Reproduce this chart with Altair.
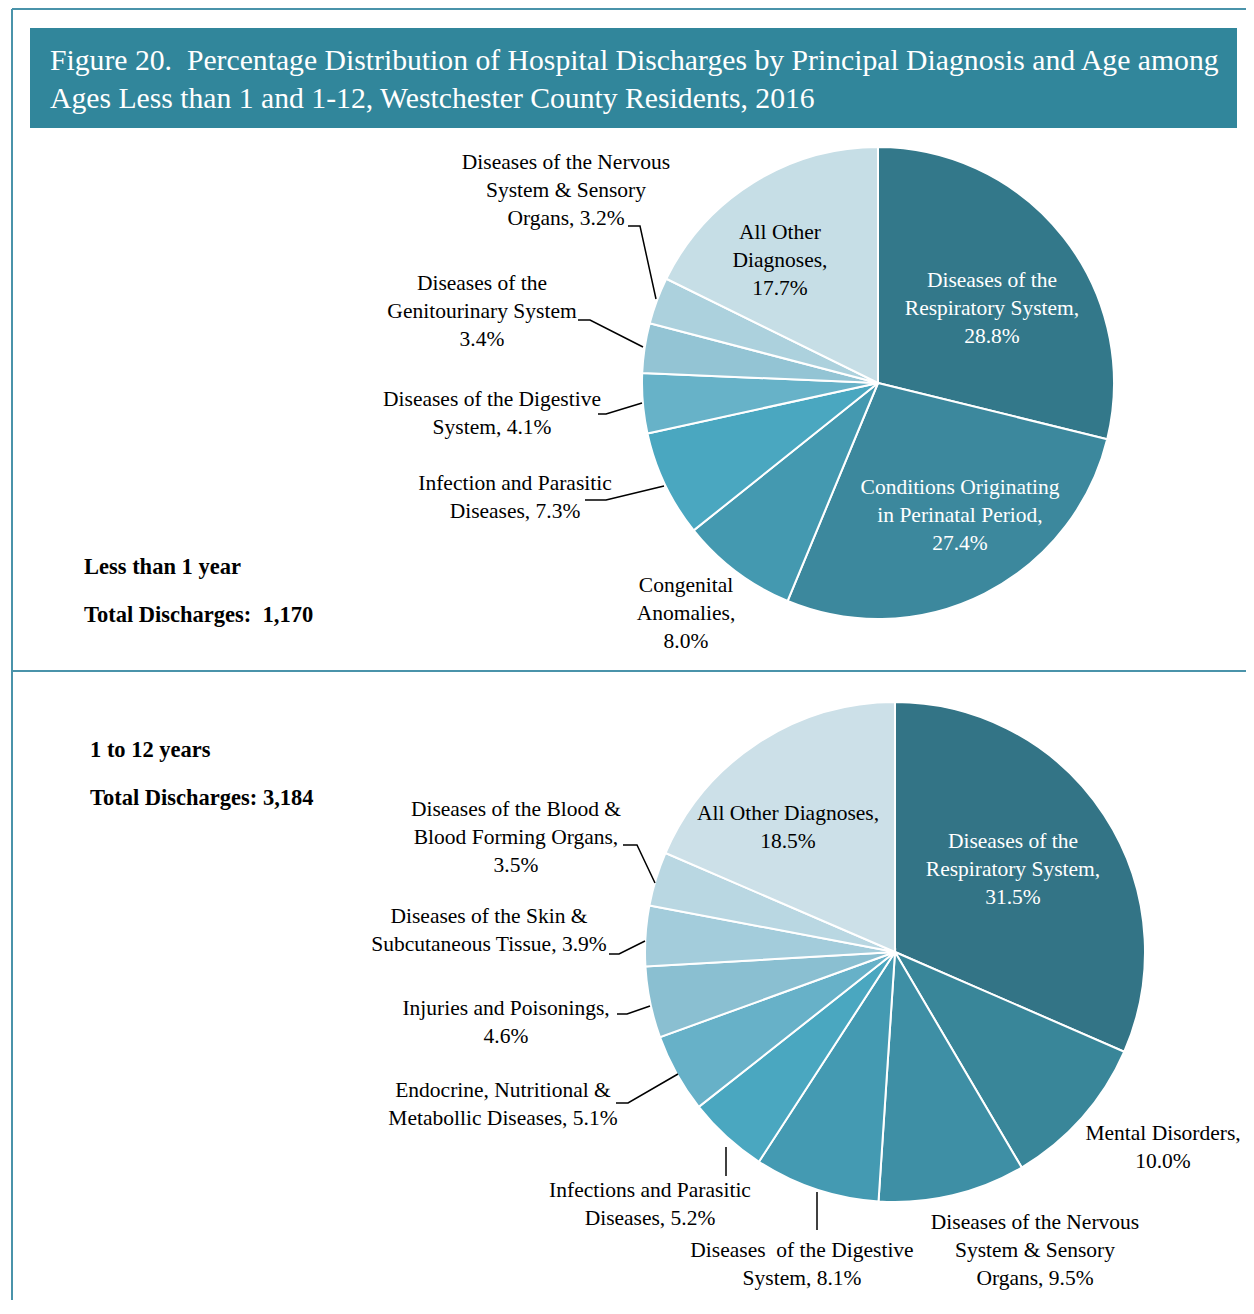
import altair as alt
import pandas as pd

# ---------------- data ----------------
top_cats = ["Diseases of the Respiratory System", "Conditions Originating in Perinatal Period",
            "Congenital Anomalies", "Infection and Parasitic Diseases",
            "Diseases of the Digestive System", "Diseases of the Genitourinary System",
            "Diseases of the Nervous System & Sensory Organs", "All Other Diagnoses"]
top_vals = [28.8, 27.4, 8.0, 7.3, 4.1, 3.4, 3.2, 17.7]
top_label_tpl = ["Diseases of the\nRespiratory System,\n{}",
                 "Conditions Originating\nin Perinatal Period,\n{}",
                 "Congenital\nAnomalies,\n{}",
                 "Infection and Parasitic\nDiseases, {}",
                 "Diseases of the Digestive\nSystem, {}",
                 "Diseases of the\nGenitourinary System\n{}",
                 "Diseases of the Nervous\nSystem & Sensory\nOrgans, {}",
                 "All Other\nDiagnoses,\n{}"]

bot_cats = ["Diseases of the Respiratory System", "Mental Disorders",
            "Diseases of the Nervous System & Sensory Organs", "Diseases of the Digestive System",
            "Infections and Parasitic Diseases", "Endocrine, Nutritional & Metabollic Diseases",
            "Injuries and Poisonings", "Diseases of the Skin & Subcutaneous Tissue",
            "Diseases of the Blood & Blood Forming Organs", "All Other Diagnoses"]
bot_vals = [31.5, 10.0, 9.5, 8.1, 5.2, 5.1, 4.6, 3.9, 3.5, 18.5]
bot_label_tpl = ["Diseases of the\nRespiratory System,\n{}",
                 "Mental Disorders,\n{}",
                 "Diseases of the Nervous\nSystem & Sensory\nOrgans, {}",
                 "Diseases\u00a0 of the Digestive\nSystem, {}",
                 "Infections and Parasitic\nDiseases, {}",
                 "Endocrine, Nutritional &\nMetabollic Diseases, {}",
                 "Injuries and Poisonings,\n{}",
                 "Diseases of the Skin &\nSubcutaneous Tissue, {}",
                 "Diseases of the Blood &\nBlood Forming Organs,\n{}",
                 "All Other Diagnoses,\n{}"]

title_lines = ["Figure 20.\u00a0 Percentage Distribution of Hospital Discharges by Principal Diagnosis and Age among",
               "Ages Less than 1 and 1-12, Westchester County Residents, 2016"]
panel_texts = ["Less than 1 year", "Total Discharges:\u00a0 1,170", "1 to 12 years", "Total Discharges: 3,184"]

# ---------------- styles & layout (pixel positions) ----------------
top_colors = ["#33788A", "#3C889D", "#4499B0", "#4AA7C0", "#67B2C8", "#93C4D4", "#ACD1DD", "#C6DEE6"]
bot_colors = ["#337486", "#398699", "#3E8FA5", "#449AB2", "#4AA7C0", "#67B1C8", "#8ABFD1",
              "#A3CCDB", "#B9D7E2", "#CCE0E8"]
top_text_colors = ["white", "white", "black", "black", "black", "black", "black", "black"]
bot_text_colors = ["white", "black", "black", "black", "black", "black", "black", "black", "black", "black"]
# x centre and y of the first line of each label
top_lab_x = [992, 960, 686, 515, 492, 482, 566, 780]
top_lab_y = [281, 488, 586, 484, 400, 284, 163, 233]
bot_lab_x = [1013, 1163, 1035, 802, 650, 503, 506, 489, 516, 788]
bot_lab_y = [842, 1134, 1223, 1251, 1191, 1091, 1009, 917, 810, 814]

top_center = (878, 383)
top_r = 236
bot_center = (895, 952)
bot_r = 250

leaders = [
    [(628, 226), (640, 226), (656, 299)],
    [(578, 320), (590, 320), (643, 347)],
    [(598, 414), (606, 414), (642, 403)],
    [(585, 500), (606, 500), (664, 486)],
    [(623, 845), (637, 845), (655, 883)],
    [(609, 954), (619, 954), (645, 941)],
    [(617, 1014), (627, 1014), (650, 1006)],
    [(616, 1103), (628, 1103), (678, 1074)],
    [(726, 1147), (726, 1176)],
    [(817, 1192), (817, 1230)],
]

W, H = 1238, 1292
FONT = "Liberation Serif"
xs = alt.Scale(domain=[8, 8 + W], nice=False, zero=False)
ys = alt.Scale(domain=[8, 8 + H], nice=False, zero=False, reverse=True)


def X(f):
    return alt.X(f, type="quantitative", scale=xs, axis=None)


def Y(f):
    return alt.Y(f, type="quantitative", scale=ys, axis=None)


def pie_df(cats, vals, colors):
    return pd.DataFrame({"cat": cats, "val": vals, "color": colors, "idx": list(range(len(cats)))})


def label_df(tpls, vals, xs_, ys_, tc):
    return pd.DataFrame({
        "text": [t.format(f"{v:.1f}%") for t, v in zip(tpls, vals)],
        "x": xs_, "y": ys_, "tc": tc,
    })


layers = []

# borders
border_df = pd.DataFrame({
    "x": [12, 12, 12], "x2": [1246, 12, 1246],
    "y": [9, 9, 671], "y2": [9, 8 + H, 671],
})
layers.append(alt.Chart(border_df).mark_rule(color="#4A93AA", strokeWidth=2).encode(
    x=X("x"), x2="x2", y=Y("y"), y2="y2"))

# title bar
title_rect = pd.DataFrame({"x": [30], "x2": [1237], "y": [28], "y2": [128]})
layers.append(alt.Chart(title_rect).mark_rect(color="#31869B").encode(
    x=X("x"), x2="x2", y=Y("y"), y2="y2"))
title_df = pd.DataFrame({"text": title_lines, "x": [50, 50], "y": [61, 99]})
layers.append(alt.Chart(title_df).mark_text(
    font=FONT, fontSize=29.7, color="white", align="left", baseline="middle").encode(
    x=X("x"), y=Y("y"), text="text"))

# panel texts
panel_df = pd.DataFrame({"text": panel_texts, "x": [84, 84, 90, 90], "y": [567, 615, 750, 798]})
layers.append(alt.Chart(panel_df).mark_text(
    font=FONT, fontSize=22.5, fontWeight="bold", color="black", align="left", baseline="middle").encode(
    x=X("x"), y=Y("y"), text="text"))

# pies
for (cx, cy), r, cats, vals, cols in [(top_center, top_r, top_cats, top_vals, top_colors),
                                      (bot_center, bot_r, bot_cats, bot_vals, bot_colors)]:
    shadow = pd.DataFrame({"x": [cx + 1], "y": [cy + 1]})
    layers.append(alt.Chart(shadow).mark_circle(
        size=3.14159 * (r + 3) ** 2, color="#d6d6d6", opacity=1).encode(x=X("x"), y=Y("y")))
    layers.append(alt.Chart(pie_df(cats, vals, cols)).mark_arc(
        radius=r, stroke="white", strokeWidth=2).encode(
        theta=alt.Theta("val:Q", stack=True),
        order=alt.Order("idx:Q"),
        color=alt.Color("color:N", scale=None),
        x=alt.X(datum=cx, type="quantitative", scale=xs, axis=None),
        y=alt.Y(datum=cy, type="quantitative", scale=ys, axis=None),
    ))

# leader lines
rows = []
for g, pts in enumerate(leaders):
    for i, (px, py) in enumerate(pts):
        rows.append({"g": g, "i": i, "x": px, "y": py})
layers.append(alt.Chart(pd.DataFrame(rows)).mark_line(color="black", strokeWidth=1.5).encode(
    x=X("x"), y=Y("y"), detail="g:N", order="i:Q"))

# labels
for tpls, vals, lx, ly, tc in [(top_label_tpl, top_vals, top_lab_x, top_lab_y, top_text_colors),
                               (bot_label_tpl, bot_vals, bot_lab_x, bot_lab_y, bot_text_colors)]:
    layers.append(alt.Chart(label_df(tpls, vals, lx, ly, tc)).mark_text(
        font=FONT, fontSize=21.5, lineHeight=28, align="center", baseline="middle", lineBreak="\n").encode(
        x=X("x"), y=Y("y"), text="text", color=alt.Color("tc:N", scale=None)))

chart = alt.layer(*layers).resolve_scale(theta="independent").properties(
    width=W, height=H, autosize=alt.AutoSizeParams(type="none"), padding=0
).configure_view(stroke=None)

chart.save("out.html", embed_options={"renderer": "svg", "actions": False})
